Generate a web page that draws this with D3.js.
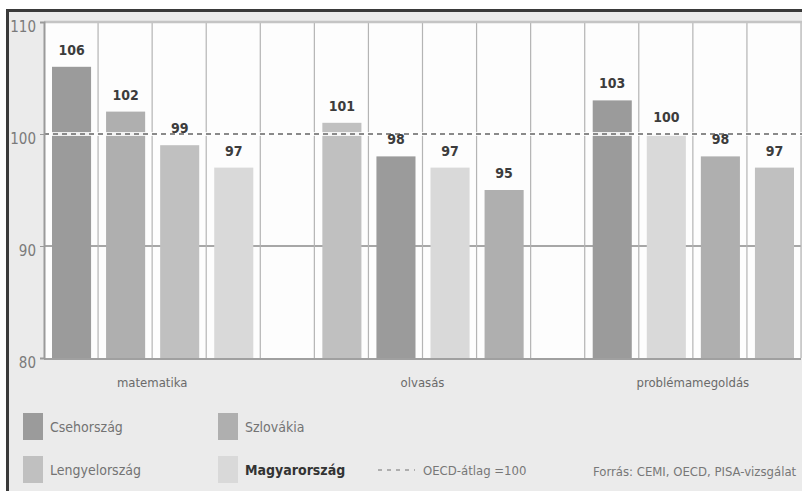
<!DOCTYPE html>
<html><head><meta charset="utf-8">
<script src="https://cdn.jsdelivr.net/npm/d3@7/dist/d3.min.js"></script>
<style>
html,body{margin:0;padding:0;background:#fff;}
svg{display:block;}
text{font-family:"Liberation Sans Narrow","DejaVu Sans Condensed","DejaVu Sans",sans-serif;font-stretch:condensed;}
</style></head>
<body>
<svg id="chart" width="802" height="491"></svg>
<script>
// ---- data ----
const categories = ["matematika", "olvasás", "problémamegoldás"];
const countries = ["Csehország", "Lengyelország", "Szlovákia", "Magyarország"];
const csehorszag    = [106, 98, 103];
const lengyelorszag = [99, 101, 97];
const szlovakia     = [102, 95, 98];
const magyarorszag  = [97, 97, 100];
const yTicks = [80, 90, 100, 110];
const oecdAvg = 100;
const legendOecd = "OECD-átlag =100";
const sourceText = "Forrás: CEMI, OECD, PISA-vizsgálat";

const seriesValues = [csehorszag, lengyelorszag, szlovakia, magyarorszag];
const colors = {"Csehország":"#9b9b9b","Lengyelország":"#c0c0c0","Szlovákia":"#afafaf","Magyarország":"#d9d9d9"};

const svg = d3.select("#chart");
const W = 802, H = 491;
const plot = {left:44, right:801, top:22, bottom:358};

// background + frame
svg.append("rect").attr("x",7).attr("y",10).attr("width",W-7).attr("height",H-10).attr("fill","#ebebeb");
svg.append("path").attr("d",`M7.5,${H} L7.5,10.5 L${W},10.5`).attr("fill","none").attr("stroke","#3a3a3a").attr("stroke-width",3);

const y = d3.scaleLinear().domain([80,110]).range([plot.bottom, plot.top]);
const x0 = d3.scaleBand().domain(categories).range([plot.left, plot.right]).paddingInner(0.2).paddingOuter(0);
const x1 = d3.scaleBand().domain(d3.range(4)).range([0, x0.bandwidth()]);
const col = x1.bandwidth();

// white plot area
svg.append("rect").attr("x",plot.left).attr("y",plot.top).attr("width",plot.right-plot.left).attr("height",plot.bottom-plot.top).attr("fill","#fdfdfd");

// gridline at 90
svg.append("line").attr("x1",plot.left).attr("x2",plot.right).attr("y1",y(90)).attr("y2",y(90)).attr("stroke","#8a8a8a").attr("stroke-width",1.5);

// vertical column lines
const nCols = Math.round((plot.right-plot.left)/col);
const colLines = d3.range(1, nCols+1).map(i => plot.left + i*col);
svg.append("g").selectAll("line").data(colLines).join("line")
  .attr("x1",d=>d).attr("x2",d=>d).attr("y1",plot.top).attr("y2",plot.bottom)
  .attr("stroke","#b4b4b4").attr("stroke-width",1.2);

// top border of plot
svg.append("line").attr("x1",plot.left).attr("x2",W).attr("y1",plot.top).attr("y2",plot.top).attr("stroke","#c4c4c4").attr("stroke-width",2.5);

// bars data: per category, sorted descending
const barData = [];
categories.forEach((c,ci) => {
  const items = countries.map((n,si)=>({cat:c, country:n, value:seriesValues[si][ci]}));
  items.sort((a,b)=>b.value-a.value);
  items.forEach((d,i)=>{ d.slot=i; barData.push(d); });
});

const bx = d => x0(d.cat) + x1(d.slot) + 8;
const bw = col - 15;
svg.append("g").selectAll("rect").data(barData).join("rect")
  .attr("x",bx).attr("width",bw)
  .attr("y",d=>y(d.value)).attr("height",d=>plot.bottom - y(d.value))
  .attr("fill",d=>colors[d.country]);

// baseline
svg.append("line").attr("x1",plot.left).attr("x2",plot.right).attr("y1",plot.bottom+1).attr("y2",plot.bottom+1).attr("stroke","#a0a0a0").attr("stroke-width",2);

// OECD average line
svg.append("line").attr("x1",plot.left).attr("x2",W).attr("y1",y(oecdAvg)).attr("y2",y(oecdAvg)).attr("stroke","#ffffff").attr("stroke-width",4).attr("opacity",0.85);
svg.append("line").attr("x1",plot.left).attr("x2",W).attr("y1",y(oecdAvg)).attr("y2",y(oecdAvg)).attr("stroke","#8a8a8a").attr("stroke-width",2).attr("stroke-dasharray","5,4");

// value labels
svg.append("g").selectAll("text").data(barData).join("text")
  .attr("x",d=>bx(d)+bw/2).attr("y",d=>y(d.value)-12)
  .attr("text-anchor","middle").attr("font-size",14).attr("font-weight","bold").attr("fill","#3c3c3c")
  .text(d=>d.value);

// y axis
const yAxis = svg.append("g").attr("transform",`translate(${plot.left},0)`)
  .call(d3.axisLeft(y).tickValues(yTicks).tickSize(4).tickPadding(4));
yAxis.select(".domain").attr("stroke","#9a9a9a").attr("stroke-width",2);
yAxis.selectAll(".tick line").attr("stroke","#9a9a9a");
yAxis.selectAll(".tick text").attr("font-size",15).attr("fill","#7a7a7a").attr("dy","0.62em")
  .style("font-family",'"Liberation Sans Narrow","DejaVu Sans Condensed","DejaVu Sans",sans-serif');

// category labels
svg.append("g").selectAll("text").data(categories).join("text")
  .attr("x",d=>x0(d)+x0.bandwidth()/2).attr("y",387)
  .attr("text-anchor","middle").attr("font-size",13).attr("fill","#6a6a6a")
  .text(d=>d);

// legend
const legendPos = [
  {name:"Csehország", x:23, y:413},
  {name:"Szlovákia", x:218, y:413},
  {name:"Lengyelország", x:23, y:456},
  {name:"Magyarország", x:218, y:456}
];
const lg = svg.append("g").selectAll("g").data(legendPos).join("g");
lg.append("rect").attr("x",d=>d.x).attr("y",d=>d.y).attr("width",20).attr("height",27).attr("fill",d=>colors[d.name]);
lg.append("text").attr("x",d=>d.x+27).attr("y",d=>d.y+19)
  .attr("font-size",14)
  .attr("font-weight",d=>d.name==="Magyarország"?"bold":"normal")
  .attr("fill",d=>d.name==="Magyarország"?"#333":"#737373")
  .text(d=>d.name);

svg.append("line").attr("x1",378).attr("x2",415).attr("y1",470).attr("y2",470)
  .attr("stroke","#9a9a9a").attr("stroke-width",1.6).attr("stroke-dasharray","4,5");
svg.append("text").attr("x",423).attr("y",475).attr("font-size",13).attr("fill","#777").text(legendOecd);
svg.append("text").attr("x",593).attr("y",476).attr("font-size",13).attr("fill","#777").text(sourceText);
</script>
</body></html>
